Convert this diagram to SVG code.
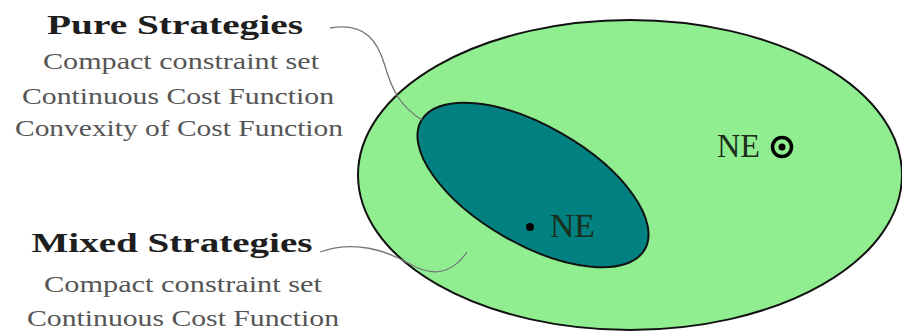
<svg xmlns="http://www.w3.org/2000/svg" width="902" height="332" viewBox="0 0 902 332">
<style>
.title{font-family:"Liberation Serif","DejaVu Serif",serif;font-weight:bold;font-size:28px;fill:#1e1e1e;text-anchor:middle}
.sub{font-family:"Liberation Serif","DejaVu Serif",serif;font-size:24px;fill:#555;text-anchor:middle}
.ne{font-family:"Liberation Serif","DejaVu Serif",serif;font-size:33px;fill:#1c2e1c}
.conn{fill:none;stroke:#777;stroke-width:1.3}
</style>
<rect width="902" height="332" fill="#fff"/>
<g id="mixed-set">
<ellipse cx="630" cy="175" rx="272" ry="155" fill="#90ee90" stroke="#111" stroke-width="2"/>
</g>
<g id="pure-set">
<ellipse cx="533" cy="185" rx="129" ry="59" transform="rotate(30 533 185)" fill="#008080" stroke="#111" stroke-width="2"/>
</g>
<g id="connectors">
<path class="conn" d="M330,28 C366,22 378,42 385,66 C392,90 400,106 422,120"/>
<path class="conn" d="M320,252 C355,240 385,250 410,264 C432,277 452,274 467,252"/>
</g>
<g id="ne-pure">
<circle cx="530" cy="227" r="4" fill="#000"/>
<text class="ne" x="550" y="237" textLength="45" lengthAdjust="spacingAndGlyphs">NE</text>
</g>
<g id="ne-mixed">
<text class="ne" x="717" y="157" textLength="43" lengthAdjust="spacingAndGlyphs">NE</text>
<circle cx="782" cy="147" r="9.5" fill="none" stroke="#000" stroke-width="3.5"/>
<circle cx="782" cy="147" r="3.5" fill="#000"/>
</g>
<g id="pure-label">
<text class="title" x="175" y="34" textLength="256" lengthAdjust="spacingAndGlyphs">Pure Strategies</text>
<text class="sub" x="181" y="69" textLength="276" lengthAdjust="spacingAndGlyphs">Compact constraint set</text>
<text class="sub" x="178" y="104" textLength="312" lengthAdjust="spacingAndGlyphs">Continuous Cost Function</text>
<text class="sub" x="179" y="136" textLength="328" lengthAdjust="spacingAndGlyphs">Convexity of Cost Function</text>
</g>
<g id="mixed-label">
<text class="title" x="172" y="252" textLength="281" lengthAdjust="spacingAndGlyphs">Mixed Strategies</text>
<text class="sub" x="183" y="292" textLength="278" lengthAdjust="spacingAndGlyphs">Compact constraint set</text>
<text class="sub" x="183" y="326" textLength="312" lengthAdjust="spacingAndGlyphs">Continuous Cost Function</text>
</g>
</svg>
